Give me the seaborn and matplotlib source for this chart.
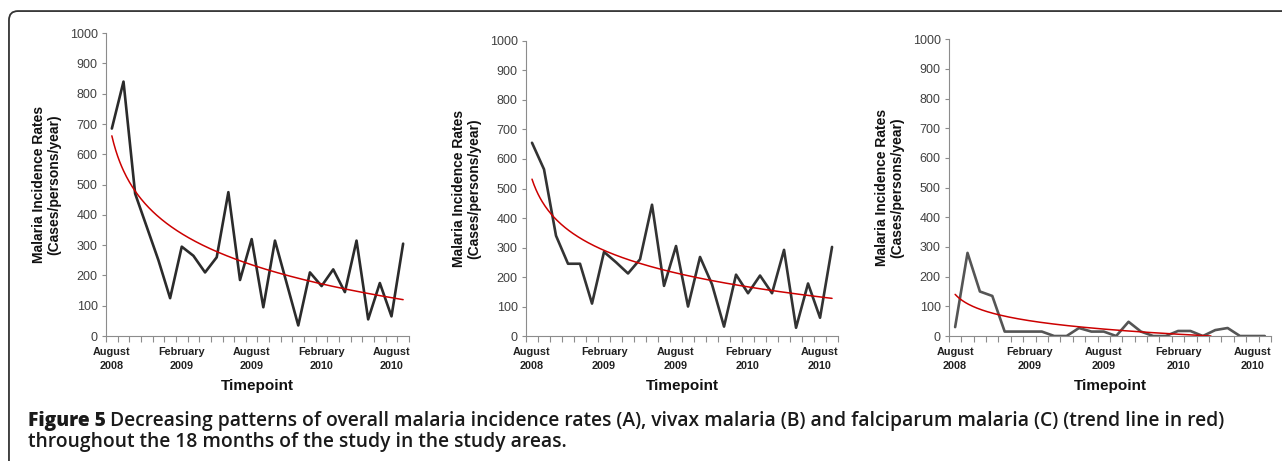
import matplotlib
matplotlib.use("Agg")
import matplotlib.pyplot as plt
import numpy as np
import pandas as pd
import seaborn as sns
from matplotlib.patches import FancyBboxPatch

# monthly timepoints, August 2008 .. September 2010
tick_labels = ["August\n2008", "February\n2009", "August\n2009", "February\n2010", "August\n2010"]
tick_index = [0, 6, 12, 18, 24]

overall = [685, 840, 470, 360, 250, 125, 295, 265, 210, 260, 475, 185, 320,
           95, 315, 175, 35, 210, 165, 220, 145, 315, 55, 175, 65, 305]
vivax = [655, 565, 340, 245, 245, 110, 285, 250, 212, 260, 445, 170, 305,
         100, 268, 175, 32, 208, 145, 205, 145, 292, 28, 178, 62, 302]
falciparum = [30, 280, 150, 135, 15, 15, 15, 15, 0, 0, 27, 15, 15,
              0, 48, 15, 0, 0, 17, 17, 0, 20, 27, 0, 0, 0]

series = [overall, vivax, falciparum]
line_colors = ["#2b2b2b", "#333333", "#555555"]
# axes rectangles in figure fractions
positions = [
    [0.0827, 0.2711, 0.2363, 0.657],
    [0.4103, 0.2711, 0.2434, 0.640],
    [0.7402, 0.2711, 0.2512, 0.644],
]

sns.set_theme(style="white")
plt.rcParams["font.family"] = ["Liberation Sans", "DejaVu Sans"]

fig = plt.figure(figsize=(12.82, 4.61), dpi=100)

for values, color, pos in zip(series, line_colors, positions):
    ax = fig.add_axes(pos)
    x = np.arange(len(values))
    df = pd.DataFrame({"t": x, "rate": values})
    # logarithmic trend line, as Excel fits it: y = a*ln(t) + b
    a, b = np.polyfit(np.log(x + 1), df["rate"], 1)
    tt = np.linspace(0, len(values) - 1, 300)
    trend = pd.DataFrame({"t": tt, "trend": a * np.log(tt + 1) + b})
    trend = trend[trend["trend"] >= 0]

    sns.lineplot(data=df, x="t", y="rate", ax=ax, color=color, lw=1.9)
    sns.lineplot(data=trend, x="t", y="trend", ax=ax, color="#cc0000", lw=1.1)

    ax.set_xlim(-0.5, len(values) - 0.5)
    ax.set_ylim(0, 1000)
    ax.set_yticks(range(0, 1001, 100))
    ax.tick_params(axis="y", labelsize=9, colors="#404040", length=3, width=0.8,
                   left=True, pad=3)
    ax.tick_params(axis="y", color="#8c8c8c")
    ax.set_xticks(np.arange(-0.5, len(values)), labels=[])
    ax.tick_params(axis="x", which="major", length=4, width=0.8, bottom=True,
                   color="#8c8c8c")
    ax.set_xticks(tick_index, labels=tick_labels, minor=True)
    ax.tick_params(axis="x", which="minor", length=0, labelsize=7.8, pad=8,
                   labelcolor="#222222")
    for lab in ax.get_xticklabels(minor=True):
        lab.set_fontweight("bold")
        lab.set_linespacing(1.45)

    for side in ["top", "right"]:
        ax.spines[side].set_visible(False)
    for side in ["left", "bottom"]:
        ax.spines[side].set_color("#8c8c8c")
        ax.spines[side].set_linewidth(0.8)

    ax.set_xlabel("Timepoint", fontsize=11, fontweight="bold", labelpad=6, color="#111111")
    ax.set_ylabel("Malaria Incidence Rates\n(Cases/persons/year)", fontsize=10,
                  fontweight="bold", labelpad=6, color="#111111", linespacing=1.15)

# rounded frame around the whole figure (open to the right and bottom)
frame = FancyBboxPatch((0.007, -0.05), 1.05, 1.026, transform=fig.transFigure,
                       boxstyle="round,pad=0,rounding_size=0.007", fill=False,
                       edgecolor="#333333", lw=1.3, mutation_aspect=2.8)
fig.patches.append(frame)

# caption: bold "Figure 5" followed directly by the semibold text
cap_font = ["Open Sans", "DejaVu Sans"]
cap_size = 13.9
cap_x = 0.0215
head = fig.text(cap_x, 0.0759, "Figure 5 ", fontsize=cap_size, fontweight="heavy",
                color="#1a1a1a", va="baseline", family=cap_font)
renderer = fig.canvas.get_renderer()
head_w = head.get_window_extent(renderer).width / fig.bbox.width
fig.text(cap_x + head_w, 0.0759,
         "Decreasing patterns of overall malaria incidence rates (A), vivax malaria (B) "
         "and falciparum malaria (C) (trend line in red)",
         fontsize=cap_size, fontweight="semibold", color="#1a1a1a", va="baseline",
         family=cap_font)
fig.text(cap_x, 0.0297, "throughout the 18 months of the study in the study areas.",
         fontsize=cap_size, fontweight="semibold", color="#1a1a1a", va="baseline",
         family=cap_font)

fig.savefig("out.png", dpi=100)
